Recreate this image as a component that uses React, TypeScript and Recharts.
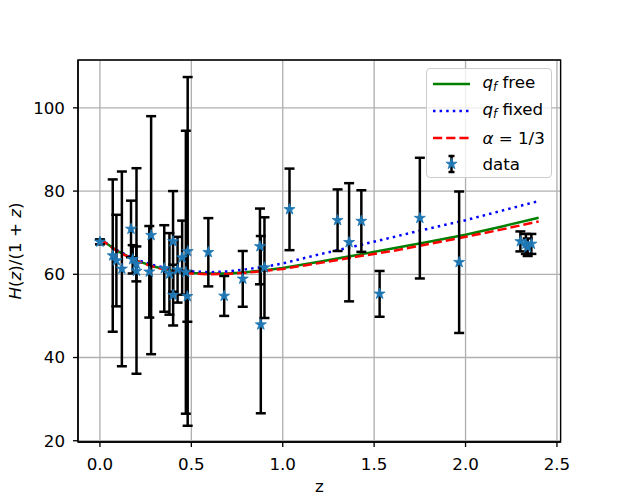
import React from "react";
import {
  ComposedChart,
  Line,
  Scatter,
  ErrorBar,
  XAxis,
  YAxis,
  CartesianGrid,
  Legend,
  ReferenceArea,
} from "recharts";

// observed H(z)/(1+z) points
const zData = [0, 0.07, 0.09, 0.12, 0.17, 0.1791, 0.1993, 0.2, 0.27, 0.28, 0.3519, 0.3802, 0.4, 0.4004, 0.4247, 0.4497, 0.47, 0.4783, 0.48, 0.5929, 0.6797, 0.7812, 0.8754, 0.88, 0.9, 1.037, 1.3, 1.363, 1.43, 1.53, 1.75, 1.965, 2.3, 2.33, 2.34, 2.36];
const hData = [67.8, 64.5, 63.3, 61.3, 70.9, 63.6, 62.5, 60.8, 60.6, 69.4, 61.4, 60.1, 67.9, 55.0, 61.1, 64.0, 60.5, 54.7, 65.5, 65.3, 54.8, 58.9, 66.7, 47.9, 61.6, 75.6, 73.0, 67.7, 72.8, 55.3, 73.5, 62.9, 67.9, 67.3, 66.5, 67.3];
const errData = [0.6, 18.3, 11.0, 23.4, 6.8, 3.4, 4.2, 24.7, 11.0, 28.6, 10.4, 9.8, 12.1, 7.3, 7.9, 8.9, 34.0, 6.1, 41.9, 8.2, 4.8, 6.7, 9.1, 21.3, 12.1, 9.8, 7.4, 14.2, 7.4, 5.5, 14.5, 17.0, 2.4, 2.4, 2.1, 2.4];

// model curves
const zModel = [0, 0.1, 0.2, 0.3, 0.4, 0.5, 0.6, 0.7, 0.8, 0.9, 1.0, 1.2, 1.4, 1.6, 1.8, 2.0, 2.2, 2.4];
const qfFree = [68.5, 65.5, 63.3, 61.8, 60.8, 60.3, 60.2, 60.2, 60.5, 61.0, 61.5, 63.0, 64.6, 66.2, 67.8, 69.5, 71.5, 73.6];
const qfFixed = [68.5, 65.6, 63.5, 62.1, 61.2, 60.7, 60.5, 60.7, 61.2, 61.8, 62.6, 64.8, 66.8, 68.9, 71.0, 73.0, 75.3, 77.6];
const alphaThird = [68.5, 65.4, 63.2, 61.7, 60.7, 60.2, 60.0, 60.1, 60.4, 60.8, 61.3, 62.7, 64.2, 65.6, 67.3, 69.0, 70.8, 72.7];

const xTicks = [0, 0.5, 1, 1.5, 2, 2.5];
const yTicks = [20, 40, 60, 80, 100];

const points = zData.map((z, i) => ({ z, h: hData[i], err: errData[i] }));
const models = zModel.map((z, i) => ({ z, free: qfFree[i], fixed: qfFixed[i], alpha: alphaThird[i] }));

const FONT = "DejaVu Sans";
const FS = 16.7;
const BLUE = "#1f77b4";

function starPath(cx: number, cy: number, R: number) {
  const r = R * 0.382;
  let d = "";
  for (let k = 0; k < 10; k++) {
    const rad = k % 2 === 0 ? R : r;
    const a = -Math.PI / 2 + (k * Math.PI) / 5;
    d += (k === 0 ? "M" : "L") + (cx + rad * Math.cos(a)).toFixed(2) + "," + (cy + rad * Math.sin(a)).toFixed(2);
  }
  return d + "Z";
}

const StarShape = (props: any) => {
  const { cx, cy } = props;
  if (cx == null || cy == null) return null;
  return <path d={starPath(cx, cy, 5.8)} fill={BLUE} stroke={BLUE} strokeWidth={0.8} />;
};

const Qf = () => (
  <span>
    <i>q</i>
    <i style={{ fontSize: "0.7em", verticalAlign: "-0.25em" }}>f</i>
  </span>
);

const legendRows = [
  { key: "free", label: <><Qf /> free</> },
  { key: "fixed", label: <><Qf /> fixed</> },
  { key: "alpha", label: <><i>α</i> = 1/3</> },
  { key: "data", label: <>data</> },
];

function Handle({ kind }: { kind: string }) {
  return (
    <svg width={37} height={26} style={{ display: "block" }}>
      {kind === "free" && <line x1={0} x2={37} y1={13} y2={13} stroke="#008000" strokeWidth={2.5} />}
      {kind === "fixed" && <line x1={0} x2={37} y1={13} y2={13} stroke="#0000ff" strokeWidth={2.5} strokeDasharray="2.5 4.1" />}
      {kind === "alpha" && <line x1={0} x2={37} y1={13} y2={13} stroke="#ff0000" strokeWidth={2.5} strokeDasharray="9.2 4" />}
      {kind === "data" && (
        <g stroke="#000" strokeWidth={2.5}>
          <line x1={18.5} x2={18.5} y1={5} y2={21} />
          <line x1={15.5} x2={21.5} y1={5} y2={5} />
          <line x1={15.5} x2={21.5} y1={21} y2={21} />
          <path d={starPath(18.5, 13, 5.8)} fill={BLUE} stroke={BLUE} strokeWidth={0.8} />
        </g>
      )}
    </svg>
  );
}

const renderLegend = () => (
  <div
    style={{
      width: 126,
      height: 110,
      boxSizing: "border-box",
      border: "1px solid #cccccc",
      borderRadius: 4,
      background: "rgba(255,255,255,0.8)",
      paddingTop: 2,
      fontFamily: FONT,
      fontSize: FS,
      color: "#000",
    }}
  >
    {legendRows.map((row) => (
      <div key={row.key} style={{ display: "flex", alignItems: "center", height: 26.7 }}>
        <div style={{ marginLeft: 5.7, marginRight: 12.7 }}>
          <Handle kind={row.key} />
        </div>
        <div style={{ whiteSpace: "nowrap", lineHeight: "26px" }}>{row.label}</div>
      </div>
    ))}
  </div>
);

const YLabel = () => (
  <text x={21} y={251} transform="rotate(-90, 21, 251)" textAnchor="middle" fontSize={FS} fontFamily={FONT} fill="#000">
    <tspan fontStyle="italic">H</tspan>(<tspan fontStyle="italic">z</tspan>)/(1 + <tspan fontStyle="italic">z</tspan>)
  </text>
);

const XLabel = () => (
  <text x={319.3} y={491.7} textAnchor="middle" fontSize={FS} fontFamily={FONT} fill="#000">
    z
  </text>
);

export default function App() {
  return (
    <div style={{ position: "absolute", left: 0, top: 0, width: 623, height: 498, background: "#fff" }}>
      <ComposedChart
        width={623}
        height={498}
        margin={{ top: 60, right: 62.4, bottom: 0, left: 0 }}
        style={{ fontFamily: FONT }}
      >
        <CartesianGrid stroke="#b0b0b0" strokeWidth={1.33} />
        <XAxis
          dataKey="z"
          type="number"
          domain={[-0.12, 2.52]}
          allowDataOverflow
          ticks={xTicks}
          interval={0}
          tickFormatter={(v: number) => v.toFixed(1)}
          height={56}
          tickSize={5}
          tickMargin={11}
          tick={{ fill: "#000", fontSize: FS, fontFamily: FONT }}
          axisLine={{ stroke: "#000", strokeWidth: 1.33 }}
          tickLine={{ stroke: "#000", strokeWidth: 1.33 }}
          label={{ content: () => <XLabel /> }}
        />
        <YAxis
          type="number"
          domain={[19.7, 111.5]}
          allowDataOverflow
          ticks={yTicks}
          interval={0}
          width={78}
          tickSize={5}
          tickMargin={8}
          tick={{ fill: "#000", fontSize: FS, fontFamily: FONT }}
          axisLine={{ stroke: "#000", strokeWidth: 1.33 }}
          tickLine={{ stroke: "#000", strokeWidth: 1.33 }}
          label={{ content: () => <YLabel /> }}
        />
        <Line data={models} dataKey="free" type="linear" stroke="#008000" strokeWidth={2.5} dot={false} isAnimationActive={false} />
        <Line data={models} dataKey="fixed" type="linear" stroke="#0000ff" strokeWidth={2.5} strokeDasharray="2.5 4.1" dot={false} isAnimationActive={false} />
        <Line data={models} dataKey="alpha" type="linear" stroke="#ff0000" strokeWidth={2.5} strokeDasharray="9.2 4" dot={false} isAnimationActive={false} />
        <Scatter data={points} dataKey="h" shape={StarShape} isAnimationActive={false}>
          <ErrorBar dataKey="err" direction="y" width={5} stroke="#000" strokeWidth={2.5} />
        </Scatter>
        <ReferenceArea x1={-0.12} x2={2.52} y1={19.7} y2={111.5} fill="none" stroke="#000" strokeWidth={1.33} />
        <Legend
          layout="vertical"
          verticalAlign="middle"
          align="center"
          content={renderLegend}
          wrapperStyle={{ top: 68, left: 426, width: 126, height: 110 }}
        />
      </ComposedChart>
    </div>
  );
}
